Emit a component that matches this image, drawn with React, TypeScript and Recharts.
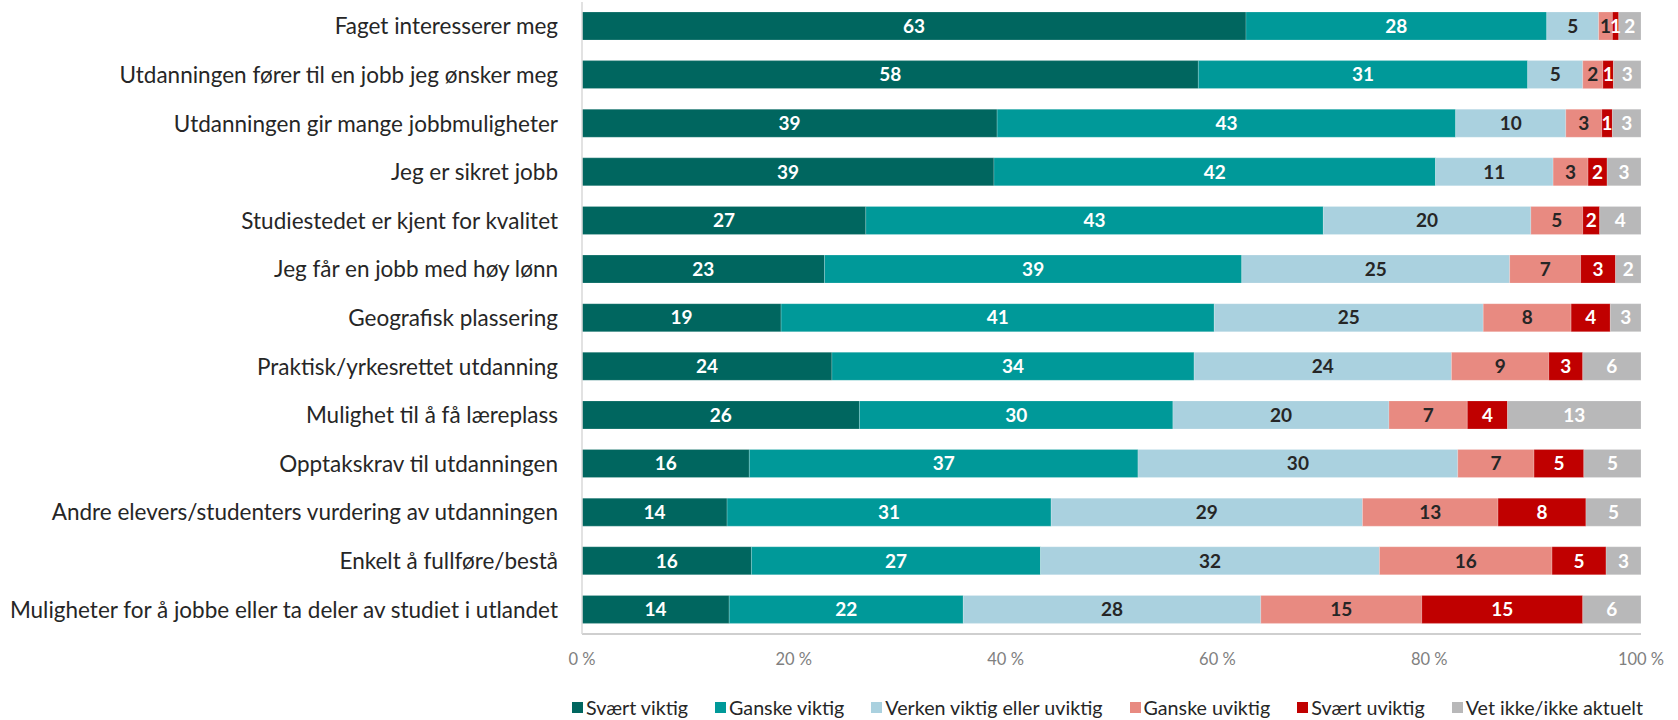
import React from 'react';
import { BarChart, Bar, XAxis, YAxis, LabelList } from 'recharts';

const categories = [
    'Faget interesserer meg',
    'Utdanningen fører til en jobb jeg ønsker meg',
    'Utdanningen gir mange jobbmuligheter',
    'Jeg er sikret jobb',
    'Studiestedet er kjent for kvalitet',
    'Jeg får en jobb med høy lønn',
    'Geografisk plassering',
    'Praktisk/yrkesrettet utdanning',
    'Mulighet til å få læreplass',
    'Opptakskrav til utdanningen',
    'Andre elevers/studenters vurdering av utdanningen',
    'Enkelt å fullføre/bestå',
    'Muligheter for å jobbe eller ta deler av studiet i utlandet',
];

const svaertViktig = [62.7, 58.2, 39.2, 38.9, 26.8, 22.9, 18.8, 23.6, 26.2, 15.8, 13.7, 16.0, 13.9];
const ganskeViktig = [28.4, 31.1, 43.3, 41.7, 43.2, 39.4, 40.9, 34.2, 29.6, 36.7, 30.6, 27.3, 22.1];
const verken = [4.9, 5.2, 10.4, 11.1, 19.6, 25.3, 25.4, 24.3, 20.4, 30.2, 29.4, 32.0, 28.1];
const ganskeUviktig = [1.3, 1.9, 3.4, 3.3, 4.9, 6.7, 8.3, 9.2, 7.4, 7.2, 12.8, 16.3, 15.2];
const svaertUviktig = [0.6, 1.0, 1.0, 1.8, 1.6, 3.3, 3.7, 3.2, 3.8, 4.7, 8.3, 5.1, 15.2];
const vetIkke = [2.1, 2.6, 2.7, 3.2, 3.9, 2.4, 2.9, 5.5, 12.6, 5.4, 5.2, 3.3, 5.5];

const xTicks = [0, 20, 40, 60, 80, 100];

const series = [
    { key: 'sv', name: 'Svært viktig', values: svaertViktig, color: '#00665f', text: '#ffffff' },
    { key: 'gv', name: 'Ganske viktig', values: ganskeViktig, color: '#009999', text: '#ffffff' },
    { key: 've', name: 'Verken viktig eller uviktig', values: verken, color: '#aad1df', text: '#262626' },
    { key: 'gu', name: 'Ganske uviktig', values: ganskeUviktig, color: '#e88a81', text: '#262626' },
    { key: 'su', name: 'Svært uviktig', values: svaertUviktig, color: '#c00000', text: '#ffffff' },
    { key: 'vi', name: 'Vet ikke/ikke aktuelt', values: vetIkke, color: '#b8b8b9', text: '#ffffff' },
];

const data = categories.map((name, i) => {
    const row: any = { name };
    series.forEach(s => { row[s.key] = s.values[i]; });
    return row;
});

const FONT = 'Lato, "Open Sans", sans-serif';

export default function App() {
    return (
        <div style={{ position: 'absolute', left: 0, top: 0, width: 1678, height: 720, background: '#fff', fontFamily: FONT }}>
            <BarChart
                width={1678}
                height={720}
                data={data}
                layout="vertical"
                margin={{ top: 2, right: 37, bottom: 61, left: 0 }}
                barCategoryGap={0}
            >
                <XAxis
                    type="number"
                    domain={[0, 100]}
                    ticks={xTicks}
                    tickFormatter={(v: number) => `${v} %`}
                    height={25}
                    tickLine={false}
                    tickMargin={13}
                    axisLine={{ stroke: '#bfbfbf', strokeWidth: 1.5 }}
                    tick={{ fill: '#808080', fontSize: 16.5, fontFamily: FONT }}
                    interval={0}
                />
                <YAxis
                    type="category"
                    dataKey="name"
                    width={582}
                    tickLine={false}
                    tickMargin={18}
                    axisLine={{ stroke: '#d9d9d9', strokeWidth: 1.5 }}
                    tick={{ fill: '#262626', fontSize: 22.5, fontFamily: FONT }}
                    interval={0}
                />
                {series.map(s => (
                    <Bar
                        key={s.key}
                        dataKey={s.key}
                        name={s.name}
                        stackId="a"
                        fill={s.color}
                        barSize={28}
                        stroke="#ffffff"
                        strokeOpacity={0.25}
                        strokeWidth={0.75}
                        isAnimationActive={false}
                    >
                        <LabelList
                            dataKey={s.key}
                            position="center"
                            formatter={(v: any) => Math.round(Number(v))}
                            fill={s.text}
                            style={{ fontSize: 19, fontWeight: 700, fontFamily: FONT }}
                        />
                    </Bar>
                ))}
            </BarChart>
            <div
                style={{
                    position: 'absolute',
                    top: 696,
                    left: 572,
                    display: 'flex',
                    alignItems: 'center',
                    gap: 27,
                    fontSize: 19.7,
                    color: '#262626',
                    whiteSpace: 'nowrap',
                }}
            >
                {series.map(s => (
                    <div key={s.key} style={{ display: 'flex', alignItems: 'center' }}>
                        <span style={{ display: 'inline-block', width: 11, height: 11, background: s.color, marginRight: 3 }} />
                        <span>{s.name}</span>
                    </div>
                ))}
            </div>
        </div>
    );
}
